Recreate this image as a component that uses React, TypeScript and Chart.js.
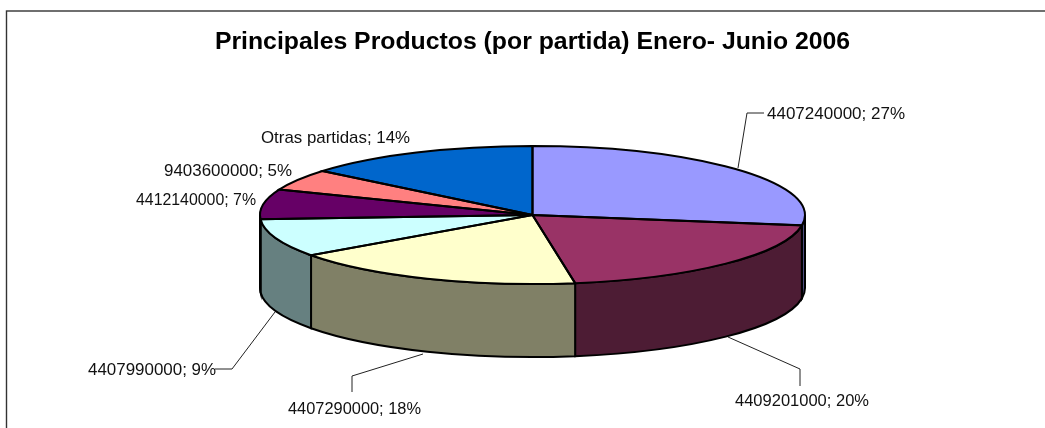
import React, { useEffect, useRef } from "react";
import { Chart, registerables } from "chart.js";

Chart.register(...registerables);

const categories = [
  "4407240000",
  "4409201000",
  "4407290000",
  "4407990000",
  "4412140000",
  "9403600000",
  "Otras partidas",
];
const shares = [27.4, 20.1, 17.6, 8.9, 7.0, 5.0, 14.0];
const topColors = ["#9999FF", "#993366", "#FFFFCC", "#CCFFFF", "#660066", "#FF8080", "#0066CC"];
const sideColors = ["#4D4D80", "#4D1C34", "#808066", "#668080", "#330033", "#804040", "#003366"];
const titleText = "Principales Productos (por partida) Enero- Junio 2006";

const CX = 532.5;
const CY = 215;
const RX = 272.5;
const RY = 69;
const DEPTH = 73;
const FONT = '17px "Liberation Sans", Arial, sans-serif';

// Label anchor (left x, middle y), fitted width and leader-line path per slice.
const labelLayout: { x: number; y: number; w: number; leader: number[][] }[] = [
  { x: 767, y: 114, w: 138, leader: [[738, 168], [747, 113], [764, 113]] },
  { x: 735, y: 401, w: 134, leader: [[728, 337], [800, 369], [800, 386]] },
  { x: 288, y: 409, w: 133, leader: [[423, 354], [352, 376], [352, 392]] },
  { x: 88, y: 370, w: 128, leader: [[275, 312], [232, 369], [215, 369]] },
  { x: 136, y: 200, w: 120, leader: [] },
  { x: 164, y: 171, w: 128, leader: [] },
  { x: 261, y: 138, w: 149, leader: [] },
];

const pie3d = {
  id: "pie3d",
  beforeDraw(chart: any) {
    const ctx = chart.ctx;
    ctx.save();
    ctx.fillStyle = "#fff";
    ctx.fillRect(0, 0, chart.width, chart.height);
    ctx.strokeStyle = "#333";
    ctx.lineWidth = 1.4;
    ctx.strokeRect(6.5, 11, 1200, 600);
    ctx.restore();
  },
  beforeDatasetsDraw(chart: any) {
    const ctx = chart.ctx;
    const arcs = chart.getDatasetMeta(0).data;
    ctx.save();
    ctx.strokeStyle = "#000";
    ctx.lineWidth = 2;
    arcs.forEach((arc: any, i: number) => {
      const a = Math.max(arc.startAngle, 0);
      const b = Math.min(arc.endAngle, Math.PI);
      if (b <= a) return;
      ctx.beginPath();
      ctx.ellipse(CX, CY, RX, RY, 0, a, b, false);
      ctx.ellipse(CX, CY + DEPTH, RX, RY, 0, b, a, true);
      ctx.closePath();
      ctx.fillStyle = sideColors[i];
      ctx.fill();
      ctx.stroke();
    });
    ctx.restore();
    const first = arcs[0];
    ctx.save();
    ctx.translate(CX, CY);
    ctx.scale(RX / first.outerRadius, RY / first.outerRadius);
    ctx.translate(-first.x, -first.y);
  },
  afterDatasetsDraw(chart: any) {
    const ctx = chart.ctx;
    ctx.restore();
    const arcs = chart.getDatasetMeta(0).data;
    ctx.save();
    ctx.strokeStyle = "#000";
    ctx.lineWidth = 2;
    arcs.forEach((arc: any) => {
      ctx.beginPath();
      ctx.moveTo(CX, CY);
      ctx.ellipse(CX, CY, RX, RY, 0, arc.startAngle, arc.endAngle, false);
      ctx.closePath();
      ctx.stroke();
    });
    ctx.font = FONT;
    ctx.textBaseline = "middle";
    ctx.textAlign = "left";
    labelLayout.forEach((l, i) => {
      if (l.leader.length) {
        ctx.beginPath();
        l.leader.forEach((p, k) => (k ? ctx.lineTo(p[0], p[1]) : ctx.moveTo(p[0], p[1])));
        ctx.strokeStyle = "#222";
        ctx.lineWidth = 1;
        ctx.stroke();
      }
      ctx.fillStyle = "#111";
      ctx.fillText(`${categories[i]}; ${Math.round(shares[i])}%`, l.x, l.y, l.w);
    });
    ctx.restore();
  },
};

export default function App() {
  const ref = useRef<HTMLCanvasElement>(null);
  useEffect(() => {
    const chart = new Chart(ref.current!, {
      type: "pie",
      data: {
        labels: categories,
        datasets: [
          {
            data: shares,
            backgroundColor: topColors,
            borderWidth: 0,
            clip: false,
          } as any,
        ],
      },
      options: {
        animation: false,
        responsive: false,
        devicePixelRatio: 1,
        layout: { padding: { left: 20, right: 0, top: 27, bottom: 0 } },
        plugins: {
          legend: { display: false },
          tooltip: { enabled: false },
          title: {
            display: true,
            text: titleText,
            color: "#000",
            font: { family: '"Liberation Sans", Arial, sans-serif', size: 24.8, weight: "bold" },
            padding: { top: 0, bottom: 10 },
          },
        },
      },
      plugins: [pie3d],
    });
    return () => chart.destroy();
  }, []);
  return (
    <canvas
      ref={ref}
      width={1045}
      height={428}
      style={{ position: "absolute", left: 0, top: 0, width: 1045, height: 428, display: "block" }}
    />
  );
}
